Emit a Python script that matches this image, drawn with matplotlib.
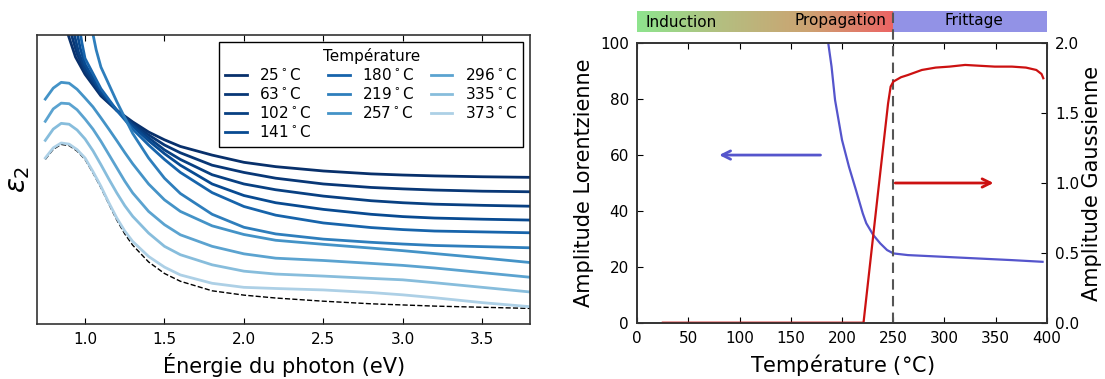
import numpy as np
import matplotlib.pyplot as plt
import matplotlib as mpl
from matplotlib.colors import LinearSegmentedColormap

mpl.rcParams['font.family'] = 'DejaVu Sans'
mpl.rcParams['font.size'] = 11
mpl.rcParams['axes.linewidth'] = 1.2
mpl.rcParams['axes.edgecolor'] = '#333333'
mpl.rcParams['xtick.direction'] = 'in'
mpl.rcParams['ytick.direction'] = 'in'
mpl.rcParams['xtick.top'] = True
mpl.rcParams['xtick.major.size'] = 4
mpl.rcParams['ytick.major.size'] = 4
mpl.rcParams['xtick.major.pad'] = 6
mpl.rcParams['ytick.major.pad'] = 6

# ---- left panel: eps2 spectra (arbitrary units) ----
temps = [25, 63, 102, 141, 180, 219, 257, 296, 335, 373]

energy_tail = [1.1, 1.2, 1.3, 1.4, 1.5, 1.6, 1.8, 2.0, 2.2, 2.5, 2.8, 3.0, 3.2, 3.5, 3.8]
e_head_25 = [0.883, 0.94, 1.0]
e_head_63 = [0.905, 0.95, 1.0]
e_head_102 = [0.925, 0.96, 1.0]
e_head_141 = [0.946, 0.97, 1.0]
e_head_180 = [0.967, 0.98, 1.0]
e_head_219 = [1.044, 1.07]
eps_25 = [102, 92.5, 86.5, 79, 74, 70, 66.5, 63.8, 61.5, 58.5, 56, 54.5, 53, 52, 51.6, 51.3, 51, 50.8]
eps_63 = [102, 93.5, 87.5, 79.5, 74, 69.5, 65.5, 62, 59.3, 55, 52.5, 50.5, 48.5, 47.3, 46.8, 46.4, 46, 45.8]
eps_102 = [102, 94, 88.5, 80, 74, 69, 64.5, 60.3, 57, 51.7, 48.5, 46.5, 44.3, 42.7, 42, 41.5, 41.1, 40.8]
eps_141 = [102, 95.5, 90, 80.5, 74, 68.5, 63.5, 59, 55, 48.5, 44.5, 42, 39.7, 38, 37.2, 36.7, 36.3, 36.0]
eps_180 = [102, 97.5, 92, 81.5, 74, 67.5, 62, 57, 52.5, 45.5, 40.7, 37.7, 35, 33.4, 32.7, 32.2, 31.9, 31.6]
eps_219 = [102, 95, 89, 77, 66, 57.5, 50.5, 45.2, 38, 33.5, 31.2, 29.4, 28.3, 27.7, 27.2, 26.8, 26.4]

energy_peak = [0.75, 0.8, 0.85, 0.9, 0.95, 1.0, 1.05, 1.1, 1.15, 1.2, 1.25, 1.3,
               1.4, 1.5, 1.6, 1.8, 2.0, 2.2, 2.5, 2.8, 3.0, 3.2, 3.5, 3.8]
eps_257 = [77.9, 81.7, 83.7, 83.4, 81.3, 78.3, 75.2, 71.4, 67.5, 63.5, 59.4, 55.5,
           48.5, 43.0, 39.0, 34.0, 31.0, 29.0, 27.6, 26.3, 25.4, 24.4, 22.9, 21.3]
eps_296 = [70.2, 74.5, 76.5, 76.3, 74.2, 71.0, 67.5, 63.3, 58.7, 54.1, 49.5, 45.4,
           39.0, 34.4, 30.9, 26.9, 24.3, 22.8, 22.0, 21.0, 20.3, 19.4, 17.8, 16.2]
eps_335 = [63.6, 67.5, 69.5, 69.2, 67.2, 64.1, 60.0, 55.2, 50.2, 45.4, 41.0, 37.3,
           31.5, 26.9, 24.0, 20.5, 18.3, 17.3, 16.6, 15.8, 15.3, 14.3, 12.7, 11.1]
eps_373 = [57.5, 61.0, 62.7, 62.3, 60.4, 57.5, 52.8, 47.7, 42.0, 36.7, 32.2, 28.6,
           23.4, 19.7, 17.0, 14.1, 12.7, 12.3, 11.8, 10.9, 10.1, 9.1, 7.4, 6.0]
eps_ref = [57.0, 60.5, 62.2, 61.8, 59.9, 57.0, 52.3, 47.2, 41.5, 36.0, 31.2, 27.3,
           21.5, 17.5, 14.8, 11.5, 10.0, 9.0, 7.9, 7.0, 6.6, 6.2, 5.8, 5.4]

# ---- right panel: amplitudes vs temperature ----
temp_lor = [186.4, 189.8, 193.2, 200.0, 206.8, 213.6, 220.3, 223.7, 230.5, 237.3,
            244.0, 250.2, 264.4, 298.3, 332.2, 366.1, 395.9]
amp_lor = [100.5, 91.6, 79.7, 65.4, 55.8, 47.5, 39.1, 35.6, 31.4, 28.4,
           26.0, 24.8, 24.2, 23.6, 23.0, 22.4, 21.8]
temp_gau = [25, 221, 235, 245, 247.5, 250.2, 257.6, 264.4, 278, 291.5, 305,
            320.3, 332.2, 349.2, 366, 379.7, 389.8, 394.9, 396.6]
amp_gau = [0, 0, 0.92, 1.57, 1.69, 1.726, 1.757, 1.773, 1.809, 1.826, 1.833,
           1.845, 1.840, 1.833, 1.833, 1.826, 1.809, 1.780, 1.750]
phase_names = ['Induction', 'Propagation', 'Frittage']
t_frittage = 250

fig = plt.figure(figsize=(11.05, 3.79), dpi=100)

# left
ax1 = fig.add_axes([0.0338, 0.1451, 0.4458, 0.7618])
colors = plt.cm.Blues([1.0, 0.97, 0.94, 0.9, 0.8, 0.7, 0.62, 0.55, 0.43, 0.33])
drude_e = [e_head_25, e_head_63, e_head_102, e_head_141, e_head_180, e_head_219]
drude_eps = [eps_25, eps_63, eps_102, eps_141, eps_180, eps_219]
peak_eps = [eps_257, eps_296, eps_335, eps_373]
ax1.plot(energy_peak, eps_ref, 'k--', lw=1.0, zorder=1)
for i, T in enumerate(temps):
    if i < 6:
        x = drude_e[i] + energy_tail
        y = drude_eps[i]
    else:
        x = energy_peak
        y = peak_eps[i - 6]
    ax1.plot(x, y, color=colors[i], lw=2.0, label='%d$^\\circ$C' % T, zorder=2)
ax1.set_xlim(0.7, 3.8)
ax1.set_ylim(0, 100)
ax1.set_yticks([])
ax1.set_xticks([1.0, 1.5, 2.0, 2.5, 3.0, 3.5])
ax1.set_xlabel('Énergie du photon (eV)', fontsize=15)
ax1.set_ylabel('$\\varepsilon_2$', fontsize=20)
leg = ax1.legend(loc='upper right', ncol=3, title='Température', fontsize=11,
                 fancybox=False, edgecolor='k', framealpha=1, handlelength=1.4,
                 borderaxespad=0.45, columnspacing=1.1, labelspacing=0.2,
                 handletextpad=0.8)
leg.get_title().set_fontsize(11)
leg.get_frame().set_linewidth(1.0)

# phase bar on top of right panel
axb = fig.add_axes([0.5767, 0.9164, 0.3706, 0.0546])
cm = LinearSegmentedColormap.from_list('phase', ['#8ee48e', '#b4be80', '#cca372', '#ec6464'])
axb.imshow(np.linspace(0, 1, 256)[None, :], cmap=cm, aspect='auto',
           extent=[0, t_frittage, 0, 1])
axb.axvspan(t_frittage, 400, color='#9292e6', lw=0)
axb.set_xlim(0, 400)
axb.set_ylim(0, 1)
axb.axis('off')
axb.text(8, 0.42, phase_names[0], ha='left', va='center', fontsize=11)
axb.text(243, 0.52, phase_names[1], ha='right', va='center', fontsize=11)
axb.text(329, 0.52, phase_names[2], ha='center', va='center', fontsize=11)

# right
ax2 = fig.add_axes([0.5767, 0.1485, 0.3706, 0.7373])
ax2.plot(temp_lor, amp_lor, color='#5555cc', lw=1.6)
ax2.plot([t_frittage, t_frittage], [0, 111.6], color='#555555', lw=1.5,
         ls=(0, (5, 3)), clip_on=False, zorder=5)
ax2.annotate('', xy=(80, 60), xytext=(179, 60),
             arrowprops=dict(arrowstyle='->', color='#5555cc', lw=2,
                             mutation_scale=15, shrinkA=0, shrinkB=0))
ax2.set_xlim(0, 400)
ax2.set_ylim(0, 100)
ax2.set_xticks(np.arange(0, 401, 50))
ax2.set_xlabel('Température ($\\degree$C)', fontsize=15)
ax2.set_ylabel('Amplitude Lorentzienne', fontsize=15)

ax3 = ax2.twinx()
ax3.plot(temp_gau, amp_gau, color='#cc1111', lw=1.6)
ax3.annotate('', xy=(348, 1.0), xytext=(252, 1.0),
             arrowprops=dict(arrowstyle='->', color='#cc1111', lw=2,
                             mutation_scale=15, shrinkA=0, shrinkB=0))
ax3.set_ylim(0, 2)
ax3.set_yticks([0, 0.5, 1.0, 1.5, 2.0])
ax3.set_ylabel('Amplitude Gaussienne', fontsize=15, labelpad=2)

plt.savefig('out.png', dpi=100)
plt.close()
